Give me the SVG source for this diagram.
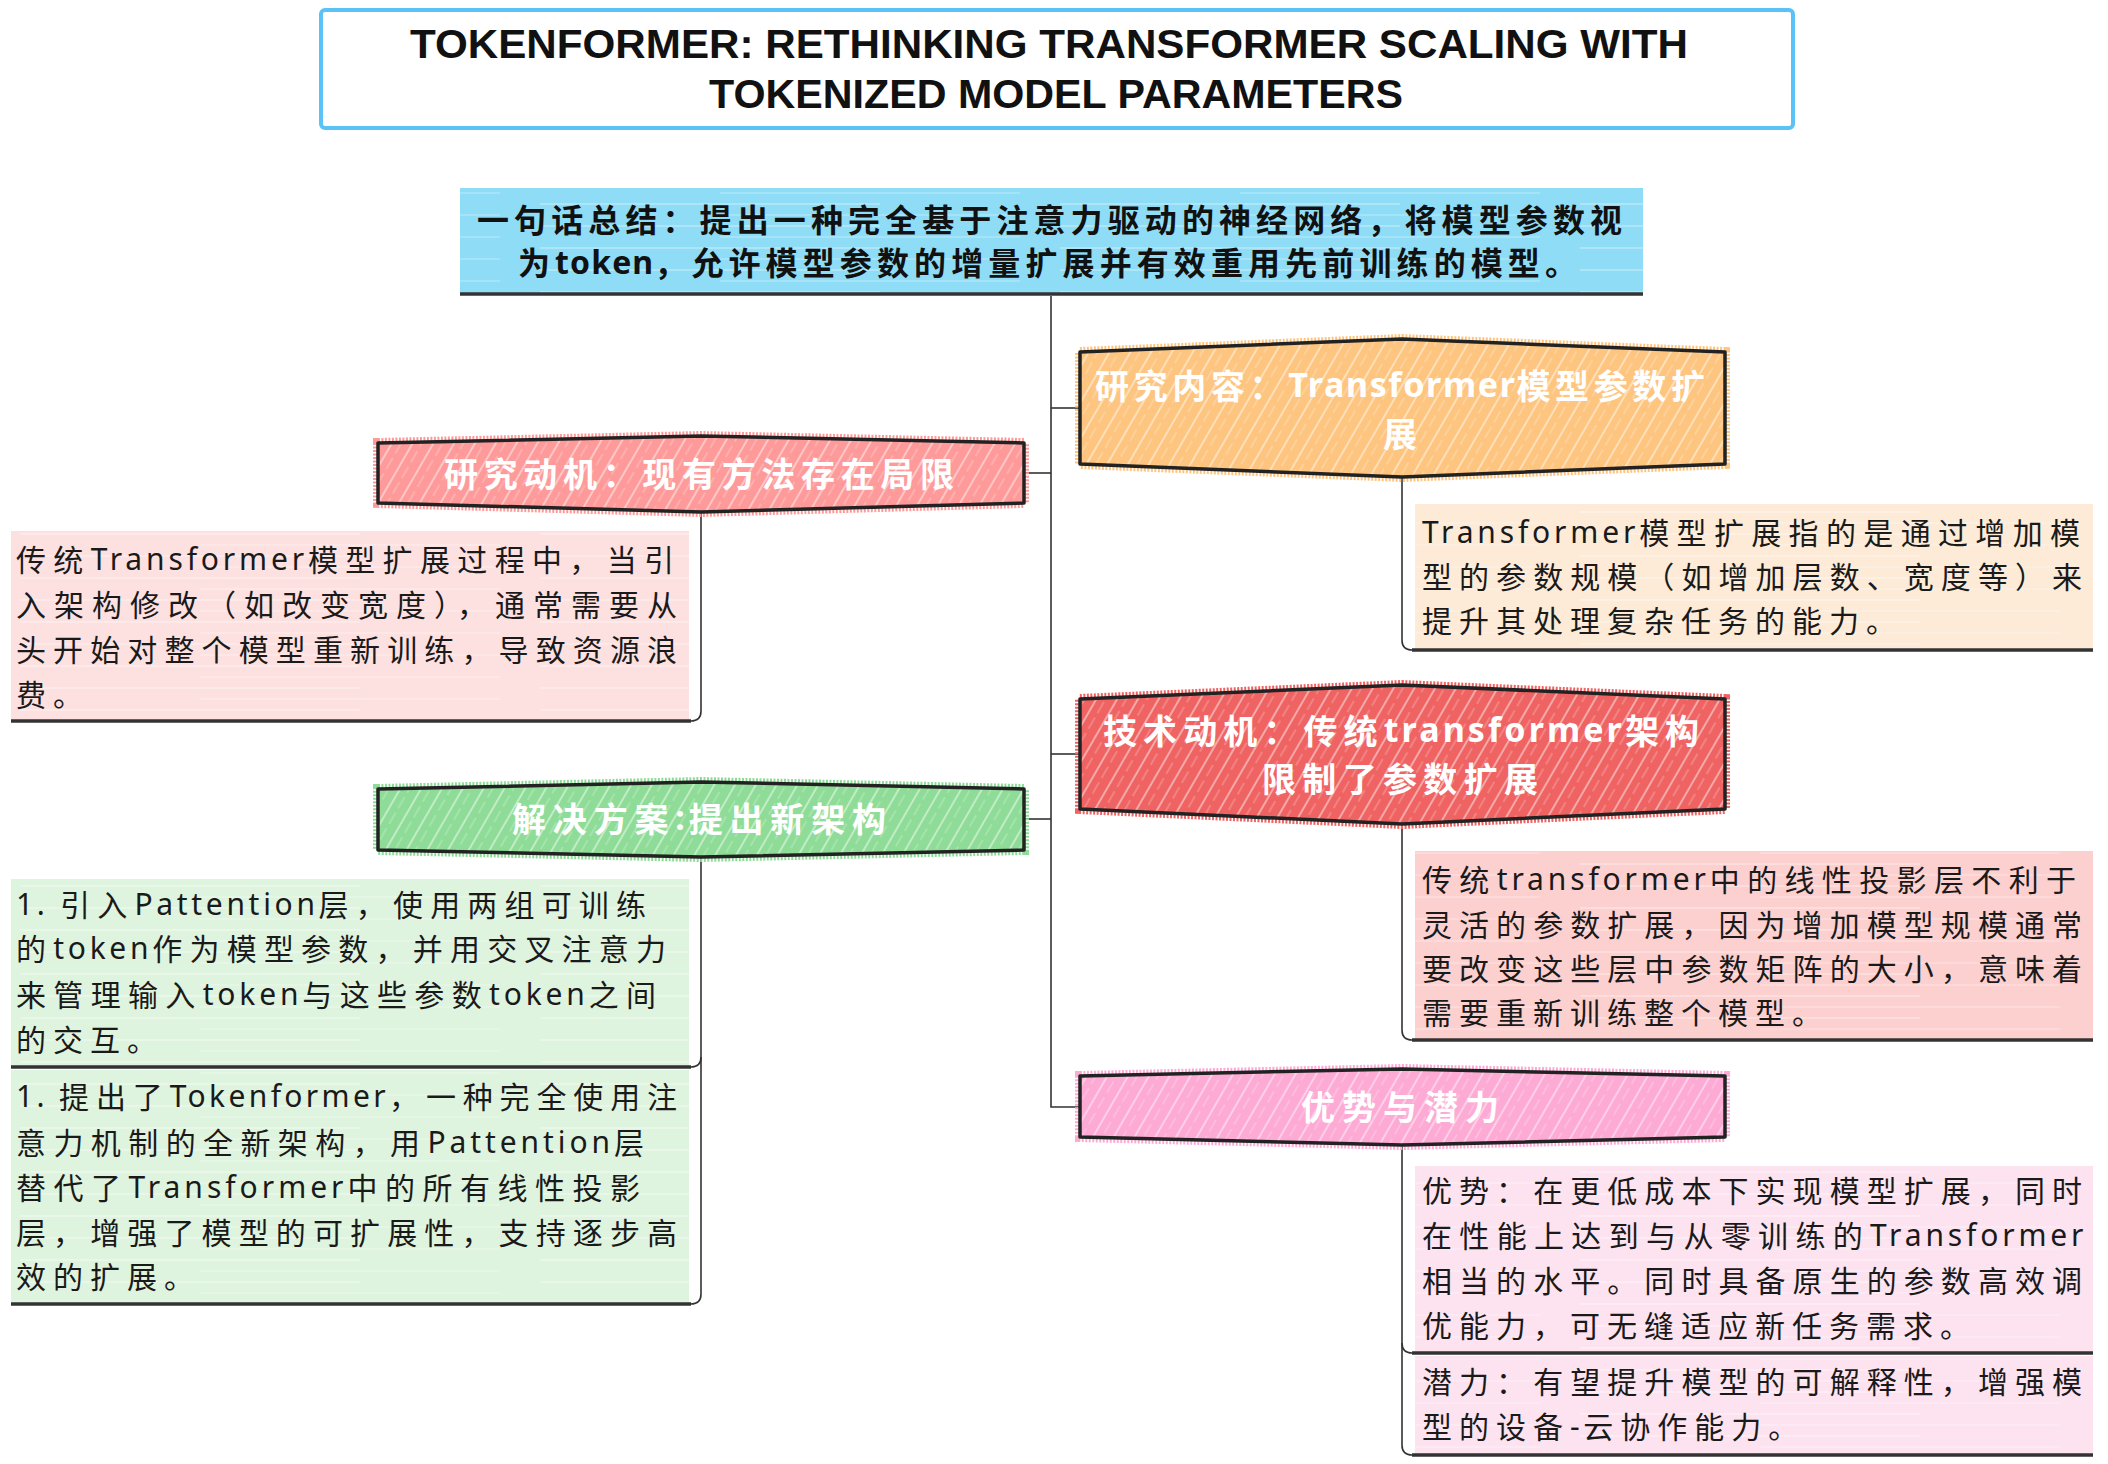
<svg xmlns="http://www.w3.org/2000/svg" width="2108" height="1464" viewBox="0 0 2108 1464">
<style>
.title{font-family:"Liberation Sans","Noto Sans CJK SC",sans-serif;font-weight:bold;font-size:40px;fill:#111;}
.sum{font-family:"Noto Sans CJK SC","Noto Sans",sans-serif;font-weight:bold;font-size:32px;fill:#111;letter-spacing:5px;}
.nt{font-family:"Noto Sans CJK SC","Noto Sans",sans-serif;font-weight:bold;font-size:34px;fill:#fff;letter-spacing:4px;}
.dt{font-family:"Noto Sans CJK SC","Noto Sans",sans-serif;font-size:30px;fill:#1a1a1a;letter-spacing:7px;}
.lt{font-family:"Noto Sans","Noto Sans CJK SC",sans-serif;letter-spacing:3.5px;}
.ltb{font-family:"Noto Sans","Noto Sans CJK SC",sans-serif;font-weight:bold;letter-spacing:1px;}
.outline{fill:none;stroke:#222;stroke-width:3.5;stroke-linejoin:round;}
.fuzz{stroke-width:10;stroke-dasharray:2 1.5;}
.conn{fill:none;stroke:#333;stroke-width:1.6;}
.bline{stroke:#333;stroke-width:3.5;}
</style>
<defs>
<pattern id="hatch" width="18" height="18" patternUnits="userSpaceOnUse" patternTransform="rotate(30)">
<line x1="3" y1="0" x2="3" y2="18" stroke="#fff" stroke-width="1.2" stroke-opacity="0.75"/>
<line x1="11" y1="2" x2="11" y2="15" stroke="#fff" stroke-width="0.8" stroke-opacity="0.5"/>
</pattern>
<pattern id="streak" width="520" height="22" patternUnits="userSpaceOnUse">
<line x1="20" y1="6" x2="360" y2="6" stroke="#fff" stroke-width="1" stroke-opacity="0.55"/>
<line x1="200" y1="17" x2="500" y2="17" stroke="#fff" stroke-width="1" stroke-opacity="0.4"/>
</pattern>
</defs>

<g id="connectors">
<path class="conn" d="M1051 296 V1107 H1080"/>
<path class="conn" d="M1024 473 H1051"/>
<path class="conn" d="M1024 819 H1051"/>
<path class="conn" d="M1051 408 H1080"/>
<path class="conn" d="M1051 754 H1080"/>
<path class="conn" d="M701 512 V711 Q701 721 691 721"/>
<path class="conn" d="M701 857 V1294 Q701 1304 691 1304"/>
<path class="conn" d="M701 1057 Q701 1067 691 1067"/>
<path class="conn" d="M1402 477 V640 Q1402 650 1412 650"/>
<path class="conn" d="M1402 824 V1030 Q1402 1040 1412 1040"/>
<path class="conn" d="M1402 1145 V1445 Q1402 1455 1412 1455"/>
<path class="conn" d="M1402 1343 Q1402 1353 1412 1353"/>
</g>

<g id="title">
<rect x="321" y="10" width="1472" height="118" rx="4" fill="#fff" stroke="#5bc2f7" stroke-width="4"/>
<text class="title" x="1049" y="44" text-anchor="middle" dominant-baseline="central" textLength="1278" lengthAdjust="spacingAndGlyphs">TOKENFORMER: RETHINKING TRANSFORMER SCALING WITH</text>
<text class="title" x="1056" y="94" text-anchor="middle" dominant-baseline="central" textLength="694" lengthAdjust="spacingAndGlyphs">TOKENIZED MODEL PARAMETERS</text>
</g>

<g id="summary">
<rect x="460" y="188" width="1183" height="106" fill="#8fdcf6"/>
<rect x="460" y="188" width="1183" height="106" fill="url(#streak)"/>
<line class="bline" x1="460" y1="294" x2="1643" y2="294"/>
<text class="sum" x="1052" y="218" text-anchor="middle" dominant-baseline="central" textLength="1150">一句话总结：提出一种完全基于注意力驱动的神经网络，将模型参数视</text>
<text class="sum" x="1050" y="261" text-anchor="middle" dominant-baseline="central" textLength="1064">为<tspan class="ltb">token</tspan>，允许模型参数的增量扩展并有效重用先前训练的模型。</text>
</g>

<g id="node-motivation">
<polygon class="fuzz" points="378,443 701,436 1024,443 1024,503 701,512 378,503" fill="#fe9a9a" stroke="#fe9a9a"/>
<polygon points="378,443 701,436 1024,443 1024,503 701,512 378,503" fill="url(#hatch)"/>
<polygon class="outline" points="378,443 701,436 1024,443 1024,503 701,512 378,503"/>
<text class="nt" x="701" y="472" text-anchor="middle" dominant-baseline="central" textLength="514">研究动机：现有方法存在局限</text>
</g>

<g id="box-motivation">
<rect x="11" y="531" width="678" height="190" fill="#fde1e1"/>
<rect x="11" y="531" width="678" height="190" fill="url(#streak)"/>
<line class="bline" x1="11" y1="721" x2="691" y2="721"/>
<text class="dt" x="16" y="558" dominant-baseline="central" textLength="665">传统<tspan class="lt">Transformer</tspan>模型扩展过程中，当引</text>
<text class="dt" x="16" y="603" dominant-baseline="central" textLength="668">入架构修改（如改变宽度），通常需要从</text>
<text class="dt" x="16" y="648" dominant-baseline="central" textLength="668">头开始对整个模型重新训练，导致资源浪</text>
<text class="dt" x="16" y="693" dominant-baseline="central">费。</text>
</g>

<g id="node-content">
<polygon class="fuzz" points="1080,352 1402,339 1725,352 1725,464 1402,477 1080,464" fill="#fdc57f" stroke="#fdc57f"/>
<polygon points="1080,352 1402,339 1725,352 1725,464 1402,477 1080,464" fill="url(#hatch)"/>
<polygon class="outline" points="1080,352 1402,339 1725,352 1725,464 1402,477 1080,464"/>
<text class="nt" x="1402" y="384" text-anchor="middle" dominant-baseline="central" textLength="614">研究内容：<tspan class="ltb">Transformer</tspan>模型参数扩</text>
<text class="nt" x="1402" y="432" text-anchor="middle" dominant-baseline="central">展</text>
</g>

<g id="box-content">
<rect x="1415" y="504" width="678" height="146" fill="#fdebd8"/>
<rect x="1415" y="504" width="678" height="146" fill="url(#streak)"/>
<line class="bline" x1="1412" y1="650" x2="2093" y2="650"/>
<text class="dt" x="1422" y="531" dominant-baseline="central" textLength="665"><tspan class="lt">Transformer</tspan>模型扩展指的是通过增加模</text>
<text class="dt" x="1422" y="575" dominant-baseline="central" textLength="667">型的参数规模（如增加层数、宽度等）来</text>
<text class="dt" x="1422" y="619" dominant-baseline="central">提升其处理复杂任务的能力。</text>
</g>

<g id="node-tech">
<polygon class="fuzz" points="1080,699 1402,685 1725,699 1725,809 1402,824 1080,809" fill="#ef6363" stroke="#ef6363"/>
<polygon points="1080,699 1402,685 1725,699 1725,809 1402,824 1080,809" fill="url(#hatch)"/>
<polygon class="outline" points="1080,699 1402,685 1725,699 1725,809 1402,824 1080,809"/>
<text class="nt" x="1403" y="729" text-anchor="middle" dominant-baseline="central" textLength="600">技术动机：传统<tspan class="ltb">transformer</tspan>架构</text>
<text class="nt" x="1402" y="777" text-anchor="middle" dominant-baseline="central" textLength="280">限制了参数扩展</text>
</g>

<g id="box-tech">
<rect x="1415" y="851" width="678" height="189" fill="#fdd0d0"/>
<rect x="1415" y="851" width="678" height="189" fill="url(#streak)"/>
<line class="bline" x1="1412" y1="1040" x2="2093" y2="1040"/>
<text class="dt" x="1422" y="878" dominant-baseline="central" textLength="661">传统<tspan class="lt">transformer</tspan>中的线性投影层不利于</text>
<text class="dt" x="1422" y="923" dominant-baseline="central" textLength="667">灵活的参数扩展，因为增加模型规模通常</text>
<text class="dt" x="1422" y="967" dominant-baseline="central" textLength="667">要改变这些层中参数矩阵的大小，意味着</text>
<text class="dt" x="1422" y="1011" dominant-baseline="central">需要重新训练整个模型。</text>
</g>

<g id="node-solution">
<polygon class="fuzz" points="378,789 701,782 1024,789 1024,850 701,857 378,850" fill="#8edc97" stroke="#8edc97"/>
<polygon points="378,789 701,782 1024,789 1024,850 701,857 378,850" fill="url(#hatch)"/>
<polygon class="outline" points="378,789 701,782 1024,789 1024,850 701,857 378,850"/>
<text class="nt" x="701" y="817" text-anchor="middle" dominant-baseline="central" textLength="378">解决方案<tspan class="ltb">:</tspan>提出新架构</text>
</g>

<g id="box-solution-1">
<rect x="11" y="879" width="678" height="188" fill="#dff4df"/>
<rect x="11" y="879" width="678" height="188" fill="url(#streak)"/>
<line class="bline" x1="11" y1="1067" x2="691" y2="1067"/>
<text class="dt" x="16" y="903" dominant-baseline="central" textLength="637"><tspan class="lt">1. </tspan>引入<tspan class="lt">Pattention</tspan>层，使用两组可训练</text>
<text class="dt" x="16" y="947" dominant-baseline="central" textLength="657">的<tspan class="lt">token</tspan>作为模型参数，并用交叉注意力</text>
<text class="dt" x="16" y="993" dominant-baseline="central" textLength="647">来管理输入<tspan class="lt">token</tspan>与这些参数<tspan class="lt">token</tspan>之间</text>
<text class="dt" x="16" y="1038" dominant-baseline="central">的交互。</text>
</g>

<g id="box-solution-2">
<rect x="11" y="1070" width="678" height="234" fill="#dff4df"/>
<rect x="11" y="1070" width="678" height="234" fill="url(#streak)"/>
<line class="bline" x1="11" y1="1304" x2="691" y2="1304"/>
<text class="dt" x="16" y="1095" dominant-baseline="central" textLength="668"><tspan class="lt">1. </tspan>提出了<tspan class="lt">Tokenformer</tspan>，一种完全使用注</text>
<text class="dt" x="16" y="1141" dominant-baseline="central" textLength="635">意力机制的全新架构，用<tspan class="lt">Pattention</tspan>层</text>
<text class="dt" x="16" y="1186" dominant-baseline="central" textLength="631">替代了<tspan class="lt">Transformer</tspan>中的所有线性投影</text>
<text class="dt" x="16" y="1231" dominant-baseline="central" textLength="668">层，增强了模型的可扩展性，支持逐步高</text>
<text class="dt" x="16" y="1275" dominant-baseline="central">效的扩展。</text>
</g>

<g id="node-advantage">
<polygon class="fuzz" points="1080,1076 1402,1069 1725,1076 1725,1137 1402,1145 1080,1137" fill="#fdaad5" stroke="#fdaad5"/>
<polygon points="1080,1076 1402,1069 1725,1076 1725,1137 1402,1145 1080,1137" fill="url(#hatch)"/>
<polygon class="outline" points="1080,1076 1402,1069 1725,1076 1725,1137 1402,1145 1080,1137"/>
<text class="nt" x="1402" y="1105" text-anchor="middle" dominant-baseline="central" textLength="202">优势与潜力</text>
</g>

<g id="box-advantage-1">
<rect x="1415" y="1166" width="678" height="187" fill="#fde3f0"/>
<rect x="1415" y="1166" width="678" height="187" fill="url(#streak)"/>
<line class="bline" x1="1412" y1="1353" x2="2093" y2="1353"/>
<text class="dt" x="1422" y="1189" dominant-baseline="central" textLength="667">优势：在更低成本下实现模型扩展，同时</text>
<text class="dt" x="1422" y="1234" dominant-baseline="central" textLength="665">在性能上达到与从零训练的<tspan class="lt">Transformer</tspan></text>
<text class="dt" x="1422" y="1279" dominant-baseline="central" textLength="667">相当的水平。同时具备原生的参数高效调</text>
<text class="dt" x="1422" y="1324" dominant-baseline="central">优能力，可无缝适应新任务需求。</text>
</g>

<g id="box-advantage-2">
<rect x="1415" y="1356" width="678" height="99" fill="#fde3f0"/>
<rect x="1415" y="1356" width="678" height="99" fill="url(#streak)"/>
<line class="bline" x1="1412" y1="1455" x2="2093" y2="1455"/>
<text class="dt" x="1422" y="1380" dominant-baseline="central" textLength="667">潜力：有望提升模型的可解释性，增强模</text>
<text class="dt" x="1422" y="1425" dominant-baseline="central">型的设备<tspan class="lt">-</tspan>云协作能力。</text>
</g>
</svg>
